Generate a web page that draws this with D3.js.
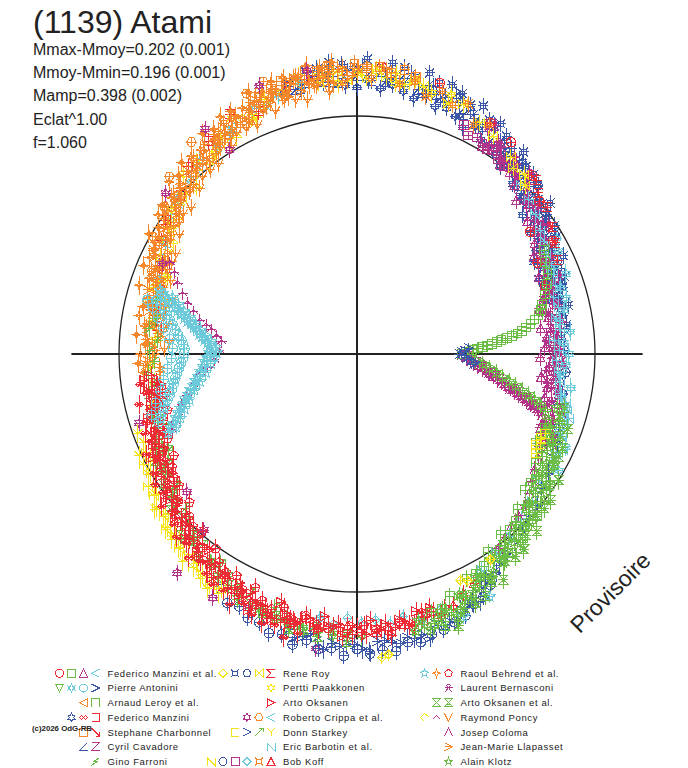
<!DOCTYPE html>
<html>
<head>
<meta charset="utf-8">
<script src="https://cdn.jsdelivr.net/npm/d3@7"></script>
<style>
  body { margin: 0; background: #fff; }
  svg { display: block; }
  text { font-family: Arial, "Liberation Sans", sans-serif; fill: #222; }
</style>
</head>
<body>
<svg id="chart" width="688" height="768"></svg>
<script>
// ---- header texts ----
const title = "(1139) Atami";
const statLines = ["Mmax-Mmoy=0.202 (0.001)", "Mmoy-Mmin=0.196 (0.001)", "Mamp=0.398 (0.002)", "Eclat^1.00", "f=1.060"];
const stamp = "Provisoire";
const copyright = "(c)2026 OdG-RB";

// ---- observers and their session marks (legend) ----
const RED = "#ec2b34", GRN = "#6cbd45", MAG = "#b3338b", CYN = "#6dcadb", BLU = "#3b56a6", ORG = "#f7872b", YEL = "#f5e31b";
const observers = [
  "Federico Manzini et al.", "Pierre Antonini", "Arnaud Leroy et al.", "Federico Manzini",
  "Stephane Charbonnel", "Cyril Cavadore", "Gino Farroni",
  "Rene Roy", "Pertti Paakkonen", "Arto Oksanen", "Roberto Crippa et al.",
  "Donn Starkey", "Eric Barbotin et al.", "Bob Koff",
  "Raoul Behrend et al.", "Laurent Bernasconi", "Arto Oksanen et al.", "Raymond Poncy",
  "Josep Coloma", "Jean-Marie Llapasset", "Alain Klotz"
];
const legendMarks = [
  [["circle", RED], ["square", GRN], ["triUp", MAG], ["lt", CYN]],
  [["triDown", GRN], ["star6", CYN], ["circle", CYN], ["gt", BLU]],
  [["triLeft", ORG], ["capN", GRN]],
  [["star6", BLU], ["infinity", RED], ["boxRight", RED]],
  [["square", ORG], ["rArrow", RED]],
  [["angle", BLU], ["Z", MAG]],
  [["lightning", GRN]],
  [["diamond", YEL], ["notched", BLU], ["hexagon", BLU], ["bowtie", YEL], ["sigma", RED]],
  [["star6", YEL]],
  [["triRight", RED]],
  [["star6", MAG], ["hexagon", ORG], ["lt", CYN]],
  [["boxLeft", YEL], ["gt", BLU], ["arrowNE", GRN], ["Y", YEL]],
  [["N", CYN]],
  [["N", YEL], ["circle", BLU], ["square", MAG], ["diamond", CYN], ["notched", ORG], ["triUp", RED]],
  [["star5", CYN], ["star4", ORG], ["pentagon", RED]],
  [["radiation", MAG]],
  [["hourglass", GRN], ["hourglass2", GRN]],
  [["halfDiamond", YEL], ["caret", MAG], ["vee", ORG]],
  [["lambda", MAG]],
  [["arrow", ORG]],
  [["star5", GRN]]
];

// ---- measurements: [rotation phase in degrees, relative flux] ----
const fmRedCirc = [[20,0.84],[26.8,0.85],[30,0.95],[35.2,0.89],[40,1.00],[45.6,1.05],[54,1.10],[60,1.12],[73,1.19],[85,1.21]];
const fmGreenSq = [[0,0.44],[2,0.485],[3.2,0.527],[4.2,0.57],[5.5,0.61],[6.6,0.655],[8,0.70],[9.8,0.74],[12.1,0.78],[15,0.805],[17.5,0.83],[20.2,0.85],
  [1,0.47],[2.6,0.51],[3.7,0.55],[4.9,0.59],[6,0.635],[7.3,0.68],[8.9,0.72],[11,0.76],[13.5,0.795],[23,0.87],[26,0.88],[29,0.90],
  [298,1.10],[308,1.06],[312,1.04],[318,1.02],[322,1.00],[326,0.98]];
const fmMagTri = [[335,0.86],[338,0.83],[341,0.85],[344,0.80],[347,0.81],[350,0.81],[353,0.78],[356,0.81],[359,0.77],[2,0.79],[5,0.80],[8,0.78],[11,0.82],[14,0.79],
  [17,0.82],[20,0.84],[23,0.83],[26,0.87],[29,0.85],[32,0.88],[35,0.91],[38,0.91],[41,0.96],[44,0.93],[47,0.97],[50,1.00],[53,1.00],[56,1.05],[59,1.02]];
const fmCyanLt = [[102,1.16],[107,1.13],[113,1.12],[119,1.09],[124,1.05],[129,1.05],[134,1.01],[139,1.00],[144,0.97],[149,0.95],[154,0.92],[159,0.89],[164,0.87],[169,0.86]];
const paGreenTri = [[250,1.16],[253,1.18],[256,1.17],[259,1.19],[262,1.18],[265,1.20],[268,1.18],[271,1.19]];
const paCyanStar = [[330,0.98],[333,0.94],[336,0.96],[339,0.91],[342,0.91],[345,0.91],[348,0.88],[351,0.91],[354,0.86],[357,0.88],[0,0.89],[3,0.87],[6,0.90],
  [9,0.86],[12,0.89],[15,0.91],[18,0.90],[21,0.94],[24,0.91],[27,0.95],[30,0.97]];
const paCyanHex = [[164.8,0.87],[166,0.85],[167.2,0.83],[168.4,0.815],[169.7,0.80],[171,0.785],[172.4,0.77],[174,0.755],[175.5,0.74],[176.9,0.732],[178.3,0.725],
  [179.8,0.727],[181.3,0.73],[182.9,0.74],[184.5,0.75],[186,0.76],[187.6,0.77],[189.2,0.78],[190.7,0.79],[192.2,0.805],[193.7,0.82],[195.1,0.835],[196.5,0.85],[197.8,0.865],[199,0.88],
  [165.5,0.91],[167.2,0.88],[169.7,0.85],[172.4,0.82],[175.5,0.79],[178.3,0.775],[181.3,0.78],[184.5,0.80],[187.6,0.82],[190.7,0.84],[193.7,0.87],[196.5,0.90]];
const paBlueGt = [[0,0.43],[1,0.44],[359,0.45],[358,0.46],[2,0.45],[357,0.48],[356,0.50],[3,0.47],[355,0.49]];
const alOrangeTri = [[100,1.15],[103,1.19],[106,1.13],[109,1.14],[112,1.13],[115,1.08],[118,1.12],[121,1.07],[124,1.08],[127,1.03],[130,1.07],[133,1.02],[136,1.00],
  [139,1.02],[142,0.95],[145,0.99],[148,0.94],[151,0.97],[154,0.90],[157,0.91],[160,0.91],[163,0.86],[166,0.90],[169,0.86],[172,0.88]];
const alGreenCap = [[286,1.13],[288.5,1.13],[291,1.09],[293.5,1.11],[296,1.05],[298.5,1.05],[301,1.04],[303.5,1.00],[306,1.02],[308.5,0.97],[311,0.98],[313.5,0.97],
  [316,0.94],[318.5,0.96],[321,0.91],[323.5,0.91],[326,0.91],[328.5,0.88],[331,0.89],[333.5,0.84],[336,0.85],[338.5,0.85]];
const fmBlueStar = [[20,0.84],[22.5,0.83],[25,0.87],[27.5,0.84],[30,0.87],[32.5,0.90],[35,0.89],[37.5,0.94],[40,0.91],[42.5,0.95],[45,0.97],[47.5,0.97],[50,1.01],
  [52.5,0.99],[55,1.02],[57.5,1.04],[60,1.04],[62.5,1.08],[65,1.05],[67.5,1.08],[70,1.10],[72.5,1.09],[75,1.13],[77.5,1.10],[80,1.12],[82.5,1.14],[85,1.12],
  [87.5,1.15],[90,1.12],[92.5,1.13],[95,1.14]];
const fmRedInf = [[188,0.92],[190.5,0.90],[193,0.94],[195.5,0.90],[198,0.93],[200.5,0.95],[203,0.94],[205.5,0.98],[208,0.95],[210.5,0.99],[213,1.01],[215.5,1.00],
  [218,1.04],[220.5,1.02],[223,1.05],[225.5,1.08],[228,1.07],[230.5,1.11],[233,1.09],[235.5,1.12],[238,1.14],[240.5,1.14],[243,1.18],[245.5,1.15],[248,1.18],
  [250.5,1.20],[253,1.19],[255.5,1.23],[258,1.20]];
const fmRedBox = [[100,1.19],[105,1.16],[112,1.10],[118,1.14],[125,1.09],[132,1.06],[138,1.00],[145,0.98],[150,0.95],[156,0.91],[162,0.87],[168,0.87],[172,0.85]];
const scOrangeSq = [[78,1.19],[80.5,1.21],[83,1.19],[85.5,1.21],[88,1.20],[90.5,1.22],[93,1.19],[95.5,1.21],[98,1.20],[100.5,1.21],[103,1.18],[105.5,1.19],[108,1.17],[110.5,1.17]];
const scRedArrow = [[191,0.86],[195,0.90],[199,0.88],[203,0.92],[207,0.95],[211,0.93],[215,0.98],[219,0.97],[223,1.01],[227,1.04],[231,1.03],[235,1.08],[239,1.08],[243,1.13],[247,1.12],[251,1.15],[255,1.17]];
const ccBlueAngle = [[14,0.87],[16,0.84],[18,0.89],[20,0.85],[22,0.88],[24,0.89],[26,0.86],[28,0.92],[30,0.90],[32,0.93],[34,0.92],[36,0.98],[38,0.96],[40,0.96],
  [42,1.00],[44,0.96],[46,1.03],[48,1.01],[50,1.06],[52,1.02],[54,1.05],[56,1.08],[58,1.05],[60,1.11],[62,1.09],[64,1.12],[66,1.10],[68,1.16],[70,1.13],[72,1.13],
  [74,1.17],[76,1.13],[78,1.18],[80,1.16],[82,1.18],[84,1.15],[86,1.20],[88,1.17],[90,1.17],[92,1.19],[94,1.14],[96,1.19],[98,1.16],[100,1.17],[102,1.14],[104,1.18],[106,1.15],
  [15,0.87],[17,0.84],[19,0.90],[21,0.87],[23,0.87],[25,0.91],[27,0.88],[29,0.95],[31,0.92],[33,0.92],[35,0.96],[37,0.93],[39,1.00],[41,0.98],[43,0.98],[45,1.02],
  [47,0.99],[49,1.06],[51,1.04],[53,1.04],[55,1.08],[57,1.05],[59,1.12],[61,1.09],[63,1.09],[65,1.13],[67,1.10],[69,1.17],[71,1.14],[73,1.14],[75,1.17],[77,1.14],
  [79,1.20],[81,1.17],[83,1.16],[85,1.19],[87,1.15],[89,1.21],[91,1.17],[93,1.16],[95,1.19],[97,1.15],[99,1.20],[101,1.16],[103,1.14],[105,1.17]];
const ccMagZ = [[345,0.88],[350,0.86],[354,0.84],[358,0.86],[2,0.83],[6,0.85],[10,0.83],[14,0.86],[18,0.87],
  [359,0.46],[357.5,0.48],[356,0.50],[355,0.52],[354,0.53],[353,0.55],[352,0.57],[351,0.59],[350,0.61],[349,0.63],[348.2,0.65],[347.4,0.67],[346.6,0.69],
  [345.9,0.71],[345.2,0.73],[344.6,0.75],[344,0.77],[343.4,0.79],[342.8,0.81]];
const gfGreen = [[165,0.87],[170,0.86],[173,0.88],[176,0.84],[179,0.87],[182,0.85],[185,0.88],[188,0.86],[191,0.89],[194,0.87],[197,0.90],[200,0.89],[203,0.92],[206,0.91],[209,0.95],[212,0.94]];
const rrYellowDia = [[274.7,1.28],[276,1.27],[294.5,1.045],[296,1.06],[303,1.03]];
const rrBlueNotched = [[8,0.89],[10.5,0.88],[13,0.91],[15.5,0.88],[18,0.91],[20.5,0.93],[23,0.92],[25.5,0.96],[28,0.93],[30.5,0.97],[33,0.99],[35.5,0.98],[38,1.03],
  [40.5,1.00],[43,1.04],[45.5,1.06],[48,1.06],[50.5,1.10],[53,1.08],[55.5,1.11],[58,1.14],[60.5,1.13],[63,1.17],[65.5,1.15],[68,1.18],[70.5,1.20],[73,1.19],
  [75.5,1.22],[78,1.19],[80.5,1.22],[83,1.23],[85.5,1.21],[88,1.24],[90.5,1.21],[93,1.22],[95.5,1.23],[98,1.21],[100.5,1.21]];
const rrBlueHex = [[340,0.90],[343,0.91],[346,0.87],[349,0.88],[352,0.86],[355,0.88],[358,0.85],[1,0.87],[4,0.86],[7,0.88],[10,0.86],[13,0.88],[16,0.88],[19,0.91],
  [22,0.90],[25,0.93],[28,0.93],[31,0.97],[34,0.96],[37,0.99],[40,1.00],[43,1.04],[46,1.03],[49,1.06]];
const rrYellowBow = [[45,1.00],[47,1.03],[50,1.02],[52,1.05],[58,1.08],[62,1.10],[67,1.14],[70,1.12],[76,1.16],[78,1.18],[80,1.15],[82,1.19],[84,1.17],[86,1.20],[88,1.16],[90,1.18],[92,1.15],[94,1.19],[96,1.17],[98,1.15]];
const rrRedSigma = [[25,0.93],[29.3,0.955],[33,0.98],[37.7,1.01],[41.7,1.02],[44,1.05]];
const ppYellowStar = [[70,1.16],[74,1.14],[78,1.17],[82,1.15],[86,1.19],[90,1.18],[94,1.14],[98,1.18],[102,1.19],[106,1.14],[110,1.14],[114,1.09],[118,1.12],[122,1.08],
  [126,1.03],[130,1.05],[134,1.05],[138,0.99],[142,0.99],[146,0.94],[150,0.96],[154,0.92],[158,0.87],[162,0.90],[166,0.90],[170,0.87],[176,0.85],[183,0.87],[188,0.86],[194,0.88]];
const aoRedTri = [[186,0.87],[188,0.85],[190,0.89],[192,0.87],[194,0.89],[196,0.87],[198,0.91],[200,0.90],[202,0.90],[204,0.94],[206,0.90],[208,0.94],[210,0.93],
  [212,0.97],[214,0.96],[216,0.95],[218,0.99],[220,0.99],[222,1.03],[224,1.02],[226,1.01],[228,1.05],[230,1.04],[232,1.08],[234,1.07],[236,1.06],[238,1.10],[240,1.09],
  [242,1.12],[244,1.11],[246,1.10],[248,1.14],[250,1.13],[252,1.17],[254,1.16],[256,1.15],[258,1.15],[260,1.13],[262,1.17],[264,1.15],[266,1.14],[268,1.17],[270,1.15],
  [272,1.18],[274,1.16],[276,1.14],[278,1.16],[280,1.14],[282,1.16],[284,1.14],[286,1.11],
  [187,0.90],[189,0.85],[191,0.88],[193,0.84],[195,0.88],[197,0.92],[199,0.88],[201,0.91],[203,0.88],[205,0.92],[207,0.96],[209,0.92],[211,0.96],[213,0.92],[215,0.97],
  [217,1.01],[219,0.97],[221,1.01],[223,0.98],[225,1.02],[227,1.06],[229,1.02],[231,1.07],[233,1.03],[235,1.08],[237,1.12],[239,1.08],[241,1.12],[243,1.08],[245,1.13],
  [247,1.17],[249,1.13],[251,1.16],[253,1.09],[255,1.13],[257,1.16],[259,1.12],[261,1.16],[263,1.11],[265,1.15],[267,1.19],[269,1.14],[271,1.17],[273,1.12],[275,1.16],
  [277,1.19],[279,1.13],[281,1.16],[283,1.11],[285,1.14]];
const rcMagStar = [[124,1.14],[122,1.01],[155,0.90],[197.6,0.96],[219,0.92],[229,0.98],[230.6,1.19],[239.4,1.19],[247,1.16],[262,1.25],[140,1.05],[110,1.20],[100,1.21]];
const rcOrangeHex = [[136.6,1.085],[142.5,1.02],[109,1.21],[113,1.19],[128,1.13],[150,0.99],[158,0.93],[96,1.22],[88,1.21]];
const rcCyanLt = [[100,1.15],[110,1.11],[120,1.07],[130,1.03],[140,0.98],[150,0.93],[155,0.91],[160,0.88],[165,0.86]];
const dsYellowBox = [[331,0.86],[333,0.845],[334,0.86],[335.5,0.85],[337,0.86]];
const dsBlueGt = [[256,1.19],[259,1.21],[262,1.20],[265,1.22],[268,1.22],[271,1.24],[274,1.21],[277,1.22],[280,1.21],[283,1.21],[286,1.18],[289,1.19],[292,1.16],
  [295,1.15],[298,1.11],[301,1.10],[304,1.07],[307,1.05],[310,1.03],[313,1.02],[316,1.00],[320,0.99],[324,0.96],[328,0.95],[332,0.93],[336,0.92],
  [257.5,1.22],[260.5,1.19],[263.5,1.25],[266.5,1.23],[269.5,1.22],[272.5,1.25],[275.5,1.21],[278.5,1.23],[281.5,1.22],[284.5,1.23],[287.5,1.18],[290.5,1.19],
  [293.5,1.16],[296.5,1.16],[299.5,1.10],[302.5,1.09]];
const dsGreenArrow = [[198,0.88],[201,0.87],[204,0.92],[207,0.89],[210,0.92],[213,0.95],[216,0.94],[219,0.99],[222,0.97],[225,1.00],[228,1.03],[231,1.03],[234,1.07],
  [237,1.05],[240,1.08],[243,1.11],[246,1.10],[249,1.15],[252,1.12],[255,1.15],[258,1.17],[261,1.16]];
const dsYellowY = [[200,0.98],[202.5,0.97],[205,1.01],[207.5,0.98],[210,1.01],[212.5,1.04],[215,1.03],[217.5,1.07],[220,1.05],[222.5,1.08],[225,1.10],[227.5,1.10],
  [230,1.14],[232.5,1.11],[235,1.15],[237.5,1.17],[240,1.16]];
const ebCyanN = [[330,0.95],[333,0.94],[335,0.955],[338,0.93],[341,0.92],[343,0.93],[345,0.915],[347,0.90],[349,0.87],[352,0.86],[355,0.85],[358,0.84],[1,0.85],
  [4,0.83],[7,0.86],[10,0.85],[13,0.87],[16,0.86],[19,0.88],[22,0.89],[25,0.88],[28,0.90],[31,0.92],[34,0.93],[38,0.95],[42,0.97],[46,0.99],
  [300,1.05],[305,1.02],[310,1.00],[315,0.98],[320,0.96],[325,0.93]];
const bkYellowN = [[205,0.98],[207.5,1.01],[210,1.00],[212.5,1.04],[215,1.04],[217.5,1.06],[220,1.06],[222.5,1.09],[225,1.08],[227.5,1.11],[230,1.10],[232.5,1.13],[235,1.13],[237.5,1.15],[240,1.14]];
const bkBlueCirc = [[240,1.14],[242.5,1.18],[245,1.17],[247.5,1.20],[250,1.20],[252.5,1.23],[255,1.22],[257.5,1.25],[260,1.22],[262.5,1.25],[265,1.24],[267.5,1.27],
  [270,1.24],[272.5,1.26],[275,1.25],[277.5,1.26],[280,1.23],[282.5,1.24],[285,1.22],[287.5,1.215],[290,1.20],[292.5,1.19],[295,1.16],[297.5,1.15],[300,1.12]];
const bkMagSq = [[52,1.00],[54,1.01],[56.3,1.03],[57.5,1.02],[59.2,1.03],[61,1.04],[63,1.03],[65,1.06]];
const bkCyanDia = [[262,1.12],[265,1.14],[268,1.11],[271,1.13],[274,1.12],[277,1.14],[280,1.12],[284,1.15],[288,1.13]];
const bkOrangeNotched = [[60,1.11],[63,1.08],[66,1.15],[69,1.12],[72,1.16],[75,1.12],[78,1.17],[81,1.15],[84,1.20],[87,1.16],[90,1.20],[93,1.14],[96,1.18],[99,1.15],
  [102,1.19],[105,1.14],[108,1.16],[111,1.10],[114,1.12],[117,1.08],[120,1.12],[123,1.06]];
const bkRedTri = [[262,1.16],[268,1.14],[274,1.17],[280,1.15],[288,1.15],[291,1.13],[294,1.10],[297,1.08]];
const rbCyanStar = [[162,0.87],[162.7,0.855],[163.4,0.84],[164.2,0.82],[164.9,0.805],[165.7,0.79],[166.5,0.775],[167.3,0.757],[168.2,0.74],[169,0.725],[169.8,0.71],
  [170.8,0.695],[171.9,0.68],[172.8,0.667],[173.7,0.655],[174.7,0.643],[175.8,0.63],[176.7,0.62],[177.6,0.615],[179.4,0.62],[181.2,0.63],[182.8,0.64],[184.5,0.65],
  [186.2,0.662],[187.9,0.675],[189.3,0.687],[190.7,0.70],[192,0.715],[193.3,0.73],[194.6,0.745],[196,0.76],[197.1,0.775],[198.2,0.79],[199.4,0.807],[200.6,0.825],
  [201.6,0.842],[202.7,0.86],[292,1.19],[298.7,1.16],
  [163,0.81],[164.6,0.78],[166.1,0.75],[167.7,0.72],[169.4,0.69],[171.3,0.665],[173.2,0.64],[175.2,0.615],[177.2,0.595],[179.4,0.59],[181.2,0.60],[183.6,0.615],
  [187,0.64],[190,0.67],[192.6,0.70],[195.3,0.73],[197.6,0.76],[200,0.79],[202,0.82]];
const rbOrangeStar4 = [[95,1.23],[97.5,1.21],[100,1.23],[102.5,1.19],[105,1.20],[107.5,1.20],[110,1.17],[112.5,1.19],[115,1.14],[117.5,1.15],[120,1.15],[122.5,1.12],
  [125,1.13],[127.5,1.08],[130,1.085],[132.5,1.09],[135,1.06],[137.5,1.07],[140,1.02],[142.5,1.03],[145,1.02],[147.5,0.99],[150,1.01],[152.5,0.96],[155,0.96],
  [157.5,0.97],[160,0.93],[162.5,0.96],[165,0.91],[167.5,0.92],[170,0.93],[172.5,0.90],[175,0.93],[177.5,0.89],[180,0.91],[182.5,0.92],[185,0.90]];
const rbRedPent = [[189,0.84],[191.5,0.82],[194,0.86],[196.5,0.83],[199,0.86],[201.5,0.88],[204,0.87],[206.5,0.91],[209,0.88],[211.5,0.91],[214,0.93],[216.5,0.93],
  [219,0.97],[221.5,0.94],[224,0.98],[226.5,1.00],[229,0.99],[231.5,1.04],[234,1.01],[236.5,1.05],[239,1.07],[241.5,1.06],[244,1.10],[246.5,1.07],[249,1.11],
  [251.5,1.13],[254,1.11],[256.5,1.15],[259,1.12],[261.5,1.15],[264,1.16],[266.5,1.15],[269,1.18],[271.5,1.14],[274,1.16],[276.5,1.17],[279,1.14],[281.5,1.17],
  [284,1.12],[286.5,1.13],[289,1.13]];
const lbMag = [[335,0.88],[337.5,0.89],[340,0.84],[342.5,0.86],[345,0.83],[347.5,0.87],[350,0.83],[352.5,0.84],[355,0.80],[357.5,0.83],[0,0.85],[2.5,0.81],[5,0.84],
  [7.5,0.82],[10,0.86],[12.5,0.81],[15,0.85],[17.5,0.85],[20,0.88],[22.5,0.86],[25,0.89],[27.5,0.87],[30,0.92],[32.5,0.92],[35,0.95],[37.5,0.94],[40,0.97],[42.5,0.96],
  [45,1.01],[47.5,1.00],[50,1.04],[52.5,1.02],[55,1.06],[57.5,1.04],[60,1.10],
  [336.3,0.91],[338.8,0.85],[341.3,0.87],[343.8,0.90],[346.3,0.84],[348.8,0.86],[351.3,0.81],[353.8,0.83],[356.3,0.87],[358.8,0.82],[1.3,0.85],[3.8,0.80],[6.3,0.83],
  [8.8,0.87],[11.3,0.83],[13.8,0.87],[16.3,0.82],[18.8,0.86],[21.3,0.91],[23.8,0.87],[26.3,0.91],[28.8,0.88],[31.3,0.92],[33.8,0.97],[36.3,0.94],[38.8,0.98],
  [41.3,0.95],[43.8,0.99],[46.3,1.05],[48.8,1.01],[51.3,1.06],[53.8,1.02],[56.3,1.07],[58.8,1.12]];
const aoeGreen = [[205,0.93],[208,0.96],[211,0.95],[214,0.98],[217,0.97],[220,1.02],[223,1.01],[226,1.06],[229,1.04],[232,1.08],[235,1.07],[238,1.11],[241,1.11],
  [244,1.15],[247,1.14],[250,1.16],[253,1.15],[256,1.19],[259,1.18],[262,1.20],[265,1.17],[268,1.21]];
const aoeGreen2 = [[288,1.20],[290.5,1.22],[293,1.16],[295.5,1.16],[298,1.15],[300.5,1.11],[303,1.13],[305.5,1.07],[308,1.08],[310.5,1.08],[313,1.04],[315.5,1.06],
  [318,1.01],[320.5,1.02],[323,1.02],[325.5,0.98],[328,1.00],[330.5,0.95],[333,0.95],[335.5,0.95],[338,0.92],[340.5,0.94],[343,0.89],[345.5,0.90]];
const rpYellowHalf = [[110,1.11],[113,1.08],[116,1.10],[119,1.04],[122,1.05],[125,1.04],[128,1.01],[131,1.02],[134,0.97],[137,0.98],[140,0.97],[143,0.94],[146,0.95],
  [149,0.90],[152,0.90],[155,0.90],[158,0.86],[161,0.88],[164,0.83],[167,0.85],[170,0.85]];
const rpMagCaret = [[154,0.875],[156,0.84],[158.4,0.81],[161,0.775],[163.3,0.745],[165.5,0.71],[167.8,0.675],[169.2,0.645],[170.6,0.62],[172.8,0.595],[174.9,0.57],
  [178.5,0.58],[182.4,0.60],[185,0.63],[187.6,0.667],[190.5,0.70],[193.6,0.735],[196,0.765],[198.2,0.79],[200.3,0.815],[202.3,0.84]];
const rpOrangeVee = [[96,1.11],[98.5,1.14],[101,1.09],[103.5,1.10],[106,1.11],[108.5,1.08],[111,1.10],[113.5,1.05],[116,1.06],[118.5,1.06],[121,1.02],[123.5,1.04],
  [126,0.99],[128.5,0.99],[131,0.99],[133.5,0.96],[136,0.98],[138.5,0.93],[141,0.94],[143.5,0.93],[146,0.90],[148.5,0.92],[151,0.87],[153.5,0.87],[156,0.87],
  [158.5,0.84],[161,0.86],[163.5,0.81],[166,0.83],[168.5,0.83],[171,0.81],[173.5,0.83],[176,0.79],[178.5,0.81]];
const jcMag = [[359,0.44],[357.5,0.46],[356,0.48],[355,0.50],[354,0.51],[353,0.53],[352,0.55],[351.5,0.56],[350.5,0.58],[349.5,0.60],[348.7,0.62],[348,0.64],
  [347.1,0.66],[346.5,0.68],[345.7,0.70],[345,0.72],[344.5,0.74],[343.8,0.76],[343.3,0.78],[342.6,0.80],[341.5,0.82],[339,0.83],[336,0.85],[333,0.86],[330,0.88],
  [327,0.89],[324,0.91],[321,0.93],[318,0.95],[315,0.96],[312,0.97],[309,0.99],[306,1.01]];
const jmlOrange = [[90,1.19],[92,1.16],[94,1.20],[96,1.15],[98,1.17],[100,1.17],[102,1.13],[104,1.17],[106,1.14],[108,1.15],[110,1.11],[112,1.15],[114,1.11],
  [116,1.10],[118,1.12],[120,1.06],[122,1.10],[124,1.06],[126,1.09],[128,1.03],[130,1.04],[132,1.04],[134,0.99],[136,1.03],[138,0.99],[140,1.00],[142,0.96],
  [144,1.00],[146,0.96],[148,0.94],[150,0.96],[152,0.90],[154,0.94],[156,0.90],[158,0.93],[160,0.875],[162,0.89],[164,0.89],[166,0.85],[168,0.89],[170,0.86],
  [172,0.88],[174,0.84],[176,0.89],[178,0.86],[180,0.85],[182,0.88],[184,0.83],
  [91,1.17],[93,1.20],[95,1.14],[97,1.18],[99,1.15],[101,1.16],[103,1.19],[105,1.12],[107,1.16],[109,1.12],[111,1.13],[113,1.15],[115,1.08],[117,1.12],[119,1.08],
  [121,1.08],[123,1.10],[125,1.03],[127,1.07],[129,1.03],[131,1.03],[133,1.05],[135,0.99],[137,1.02],[139,0.98],[141,0.98],[143,1.00],[145,0.94],[147,0.97],
  [149,0.93],[151,0.94],[153,0.96],[155,0.89],[157,0.92],[159,0.88],[161,0.89],[163,0.92],[165,0.85],[167,0.89],[169,0.86],[171,0.87],[173,0.89],[175,0.83],
  [177,0.88],[179,0.85],[181,0.86],[183,0.89],[185,0.83]];
const akGreen = [[357,0.50],[355.5,0.53],[354,0.56],[352.5,0.59],[351,0.62],[349.8,0.65],[348.7,0.68],[347.6,0.71],[346.6,0.74],[345.6,0.77],[344.5,0.80],[343,0.83],
  [341,0.85],[339,0.87],[336,0.90],[334,0.89],[332,0.93],[330,0.92],[328,0.94],[326,0.92],[324,0.97],[322,0.95],[320,0.98],[318,0.96],[316,1.01],[314,1.01],[312,1.00],
  [310,1.03],[308,1.005],[306,1.045],[304,1.035],[302,1.08],[300,1.075],[298,1.065],[296,1.115],[294,1.12],[292,1.16],[290,1.155],[288,1.14],[286,1.18],[284,1.17],[282,1.19],
  [283,1.15],[285,1.20],[287,1.17],[289,1.14],[291,1.18],[293,1.10],[295,1.14],[297,1.10],[299,1.07],[301,1.10],[303,1.03],[305,1.07],[307,1.04],[309,1.01],
  [311,1.05],[313,0.98],[315,1.02],[317,0.99],[319,0.96],[321,1.00],[323,0.93],[325,0.97],[327,0.93],[329,0.91],[331,0.95],[333,0.87],[335,0.91],[337,0.88],
  [339,0.86],[341,0.90],[343,0.83],[345,0.87]];

// sessions: data, observer, mark index, flux error (drawn in this order)
const sessions = [
  [ccBlueAngle, 5, 0, 0.035], [fmBlueStar, 3, 0, 0.035], [rrBlueNotched, 7, 1, 0.035], [rrBlueHex, 7, 2, 0.03],
  [fmMagTri, 0, 2, 0.035], [lbMag, 15, 0, 0.035], [ccMagZ, 5, 1, 0.025], [bkMagSq, 13, 2, 0.02],
  [ebCyanN, 12, 0, 0.035], [paCyanStar, 1, 1, 0.04], [fmRedCirc, 0, 0, 0.02], [rrRedSigma, 7, 4, 0.02],
  [rcCyanLt, 10, 2, 0.03], [fmCyanLt, 0, 3, 0.03], [ppYellowStar, 8, 0, 0.04], [rrYellowBow, 7, 3, 0.035],
  [rpYellowHalf, 17, 0, 0.035], [fmRedBox, 3, 2, 0.035], [bkOrangeNotched, 13, 4, 0.035], [alOrangeTri, 2, 0, 0.04],
  [rpOrangeVee, 17, 2, 0.035], [rbOrangeStar4, 14, 1, 0.04], [scOrangeSq, 4, 0, 0.035], [jmlOrange, 19, 0, 0.04],
  [rcOrangeHex, 10, 1, 0.02], [rcMagStar, 10, 0, 0.035], [paGreenTri, 1, 0, 0.035], [bkBlueCirc, 13, 1, 0.035],
  [dsBlueGt, 11, 1, 0.04], [bkCyanDia, 13, 3, 0.03], [aoeGreen, 16, 0, 0.035], [dsGreenArrow, 11, 2, 0.035],
  [dsYellowY, 11, 3, 0.04], [bkYellowN, 13, 0, 0.04], [gfGreen, 6, 0, 0.035], [fmRedInf, 3, 1, 0.04],
  [rbRedPent, 14, 2, 0.04], [scRedArrow, 4, 1, 0.04], [aoRedTri, 9, 0, 0.04], [bkRedTri, 13, 5, 0.035],
  [rpMagCaret, 17, 1, 0.025], [rbCyanStar, 14, 0, 0.03], [paCyanHex, 1, 2, 0.03], [jcMag, 18, 0, 0.025],
  [alGreenCap, 2, 1, 0.035], [aoeGreen2, 16, 1, 0.04], [akGreen, 20, 0, 0.035], [fmGreenSq, 0, 1, 0.025],
  [paBlueGt, 1, 3, 0.02], [rrYellowDia, 7, 0, 0.025], [dsYellowBox, 11, 0, 0.02]
];

// ---- symbol shapes ----
function poly(n, s, rot) {
  let p = "";
  for (let i = 0; i < n; i++) {
    const a = rot + i * 2 * Math.PI / n;
    p += (i ? "L" : "M") + (s * Math.sin(a)).toFixed(2) + "," + (-s * Math.cos(a)).toFixed(2);
  }
  return p + "Z";
}
function star(n, s, inner) {
  let p = "";
  for (let i = 0; i < 2 * n; i++) {
    const a = i * Math.PI / n, r = i % 2 ? inner : s;
    p += (i ? "L" : "M") + (r * Math.sin(a)).toFixed(2) + "," + (-r * Math.cos(a)).toFixed(2);
  }
  return p + "Z";
}
const shapes = {
  circle: s => `M${s},0A${s},${s} 0 1,1 ${-s},0A${s},${s} 0 1,1 ${s},0Z`,
  square: s => `M${-s},${-s}H${s}V${s}H${-s}Z`,
  triUp: s => `M0,${-s}L${s},${s}L${-s},${s}Z`,
  triDown: s => `M${-s},${-s}L${s},${-s}L0,${s}Z`,
  triLeft: s => `M${-s},0L${s},${-s}L${s},${s}Z`,
  triRight: s => `M${s},0L${-s},${-s}L${-s},${s}Z`,
  lt: s => `M${s},${-s}L${-s},0L${s},${s}`,
  gt: s => `M${-s},${-s}L${s},0L${-s},${s}`,
  diamond: s => `M0,${-s}L${s},0L0,${s}L${-s},0Z`,
  hexagon: s => poly(6, s, Math.PI / 6),
  pentagon: s => poly(5, s, 0),
  star5: s => star(5, s, s * 0.45),
  star6: s => star(6, s, s * 0.55),
  star4: s => star(4, s, s * 0.35),
  bowtie: s => `M${-s},${-s}V${s}L${s},${-s}V${s}Z`,
  hourglass: s => `M${-s},${-s}H${s}L${-s},${s}H${s}Z`,
  hourglass2: s => `M${-s},${-s}H${s}L${-s},${s}H${s}ZM${-s * 0.5},${s * 0.5}H${s * 0.5}`,
  sigma: s => `M${s},${-s}H${-s}L0,0L${-s},${s}H${s}`,
  N: s => `M${-s},${s}V${-s}L${s},${s}V${-s}`,
  Z: s => `M${-s},${-s}H${s}L${-s},${s}H${s}`,
  capN: s => `M${-s},${s}V${-s}H${s}V${s}`,
  boxRight: s => `M${-s},${-s}H${s}V${s}H${-s}`,
  boxLeft: s => `M${s},${-s}H${-s}V${s}H${s}`,
  angle: s => `M${s},${-s}L${-s},${s}H${s}`,
  lightning: s => `M${s},${-s}L${-s * 0.4},0H${s * 0.4}L${-s},${s}`,
  caret: s => `M${-s},${s * 0.5}L0,${-s * 0.5}L${s},${s * 0.5}`,
  vee: s => `M${-s},${-s}L0,${s}L${s},${-s}`,
  lambda: s => `M${-s},${s}L0,${-s}L${s},${s}`,
  arrow: s => `M${-s},${-s}L${s},0L${-s},${s}M${-s},0H${s}`,
  arrowNE: s => `M${-s},${s}L${s},${-s}M0,${-s}H${s}V0`,
  rArrow: s => `M${-s},${-s}L${s},${s}M${s},0V${s}H0`,
  Y: s => `M${-s},${-s}L0,0L${s},${-s}M0,0V${s}`,
  halfDiamond: s => `M${s},${-s * 0.2}L0,${-s}L${-s},0L0,${s}`,
  infinity: s => `M${-s},0L${-s / 2},${-s / 2}L0,0L${-s / 2},${s / 2}ZM0,0L${s / 2},${-s / 2}L${s},0L${s / 2},${s / 2}Z`,
  notched: s => { const h = s * 0.55; return `M${-h},${-h}H${h}V${h}H${-h}ZM${-s},${-s}L${-h},${-h}M${s},${-s}L${h},${-h}M${s},${s}L${h},${h}M${-s},${s}L${-h},${h}`; },
  radiation: s => `M${-s},${-s * 0.1}H${s}M0,${-s * 0.1}L${-s * 0.8},${s}M0,${-s * 0.1}L${s * 0.8},${s}M${s * 0.4},${-s * 0.6}A${s * 0.4},${s * 0.4} 0 1,1 ${-s * 0.4},${-s * 0.6}A${s * 0.4},${s * 0.4} 0 1,1 ${s * 0.4},${-s * 0.6}Z`
};

// ---- drawing ----
const svg = d3.select("#chart");
const cx = 357, cy = 354;
const rScale = d3.scaleLinear().domain([0, 1]).range([0, 238]);
const aScale = d3.scaleLinear().domain([0, 360]).range([0, 2 * Math.PI]);
const px = d => cx + rScale(d[1]) * Math.cos(aScale(d[0]));
const py = d => cy - rScale(d[1]) * Math.sin(aScale(d[0]));
const axisR = rScale(1.2);

const frame = svg.append("g");
frame.append("line").attr("x1", cx - axisR).attr("x2", cx + axisR).attr("y1", cy).attr("y2", cy)
  .attr("stroke", "#222").attr("stroke-width", 2);
frame.append("line").attr("x1", cx).attr("x2", cx).attr("y1", cy - axisR).attr("y2", cy + axisR)
  .attr("stroke", "#222").attr("stroke-width", 2);
frame.append("circle").attr("cx", cx).attr("cy", cy).attr("r", rScale(1))
  .attr("fill", "none").attr("stroke", "#222").attr("stroke-width", 1.3);
frame.append("line").attr("x1", cx + rScale(0.83)).attr("x2", cx + rScale(0.83)).attr("y1", cy - 20).attr("y2", cy + 22)
  .attr("stroke", "#222").attr("stroke-width", 2);

const symSize = { circle: 4.8, hexagon: 4.8, square: 4.4, star5: 5.8, pentagon: 4.8, star6: 4.8 };
const marks = svg.append("g").attr("shape-rendering", "crispEdges").attr("fill", "none").attr("stroke-width", 1);
sessions.forEach(([data, oi, mi, err]) => {
  const [shape, color] = legendMarks[oi][mi];
  const s = symSize[shape] || 4.5;
  const e = rScale(err);
  const g = marks.append("g").attr("stroke", color);
  g.selectAll("path.err").data(data).join("path").attr("class", "err")
    .attr("d", d => `M${px(d)},${py(d) - e}V${py(d) + e}M${px(d) - 5},${py(d)}H${px(d) + 5}`);
  g.selectAll("path.sym").data(data).join("path").attr("class", "sym")
    .attr("transform", d => `translate(${px(d)},${py(d)})`)
    .attr("d", shapes[shape](s));
});

// ---- texts ----
svg.append("text").attr("x", 33).attr("y", 32.5).attr("font-size", 32).text(title);
svg.selectAll("text.stat").data(statLines).join("text").attr("class", "stat")
  .attr("x", 33).attr("y", (d, i) => 55 + i * 23.2).attr("font-size", 16).text(d => d);
svg.append("text").attr("transform", "translate(616,598) rotate(-45)").attr("text-anchor", "middle")
  .attr("font-size", 23).text(stamp);

// ---- legend ----
const colX = [107.5, 283, 460.5];
const legend = svg.append("g");
observers.forEach((name, i) => {
  const col = Math.floor(i / 7), row = i % 7;
  const x = colX[col], y = 673.3 + row * 14.7;
  legend.append("text").attr("x", x).attr("y", y + 3.4).attr("font-size", 9.5)
    .attr("letter-spacing", 0.6).text(name);
  const ms = legendMarks[i];
  ms.forEach(([shape, color], j) => {
    legend.append("path")
      .attr("transform", `translate(${x - 12 - 12 * (ms.length - 1 - j)},${y})`)
      .attr("d", shapes[shape](4)).attr("fill", "none").attr("stroke", color)
      .attr("stroke-width", 1).attr("shape-rendering", "crispEdges");
  });
});
svg.append("text").attr("x", 32).attr("y", 731).attr("font-size", 7).attr("font-weight", "bold")
  .attr("textLength", 60).attr("lengthAdjust", "spacingAndGlyphs").text(copyright);
</script>
</body>
</html>
